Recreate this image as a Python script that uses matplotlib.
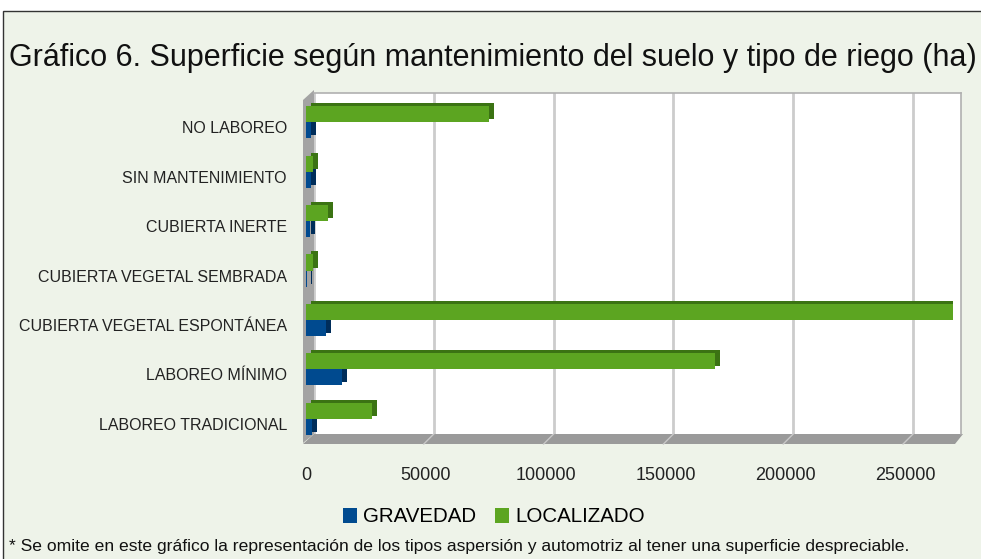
import matplotlib
matplotlib.use("Agg")
import matplotlib.pyplot as plt
import matplotlib.transforms as mtrans
from matplotlib.patches import Polygon, Rectangle, Patch
from matplotlib.lines import Line2D

plt.rcParams['font.family'] = ['Liberation Sans', 'DejaVu Sans']

# ---- data (bottom-to-top order as drawn) ----
categories = ["LABOREO TRADICIONAL", "LABOREO MÍNIMO", "CUBIERTA VEGETAL ESPONTÁNEA",
              "CUBIERTA VEGETAL SEMBRADA", "CUBIERTA INERTE", "SIN MANTENIMIENTO", "NO LABOREO"]
gravedad = [2400, 14900, 8400, 300, 1700, 2000, 2000]
localizado = [27400, 170800, 270000, 3000, 9000, 3000, 76400]
xticks = [0, 50000, 100000, 150000, 200000, 250000]
series_names = ["GRAVEDAD", "LOCALIZADO"]

W, H = 981, 559
DPI = 100
BG = "#eef3e9"
BLUE, BLUE_D = "#004a8f", "#002d5a"
GREEN, GREEN_D = "#5ca521", "#3b7313"

fig = plt.figure(figsize=(W / DPI, H / DPI), dpi=DPI)
fig.patch.set_facecolor("white")

def fx(px):
    return px / W

def fy(py):
    return 1 - py / H

# frame background with border
fig.patches.append(Rectangle((fx(3), fy(H + 5)), fx(W + 10), (H + 5 - 11) / H,
                             transform=fig.transFigure, facecolor=BG,
                             edgecolor="#333333", linewidth=1.0, zorder=-5))

# front plane geometry (pixels)
L, R, T, B = 306, 953, 100, 441
DX, DY = 8, 7  # oblique depth

ax_pos = [fx(L), fy(B), fx(R) - fx(L), fy(T) - fy(B)]
axb = fig.add_axes([ax_pos[0] + fx(DX), ax_pos[1] + DY / H, ax_pos[2], ax_pos[3]])
ax = fig.add_axes(ax_pos)
axb.set_zorder(2)
ax.set_zorder(3)

xmax = 270000
ylim = (-0.45, 6.45)
for a in (ax, axb):
    a.set_xlim(0, xmax)
    a.set_ylim(*ylim)

# back wall
axb.set_facecolor("white")
for s in axb.spines.values():
    s.set_color("#b0b0b0")
    s.set_linewidth(1.2)
axb.spines['left'].set_visible(False)
axb.spines['bottom'].set_visible(False)
axb.set_xticks(xticks)
axb.set_yticks([])
axb.tick_params(axis='x', length=0, labelbottom=False)
axb.grid(axis='x', color="#cccccc", linewidth=2.0)
axb.set_axisbelow(True)

# left wall and floor (decoration)
fig.patches.append(Polygon([(fx(L - 3), fy(B + 2)), (fx(L - 3), fy(T)), (fx(L + DX), fy(T - DY - 3)),
                            (fx(L + DX), fy(B - DY))], closed=True, transform=fig.transFigure,
                           facecolor="#a3a3a3", edgecolor="none", zorder=1))
fig.patches.append(Polygon([(fx(L - 3), fy(B + 3)), (fx(L + DX), fy(B - DY)), (fx(R + DX + 2), fy(B - DY)),
                            (fx(R + 2), fy(B + 3))], closed=True, transform=fig.transFigure,
                           facecolor="#9a9a9a", edgecolor="none", zorder=1))

# floor tick marks
for t in xticks[1:]:
    xf = L + (R - L) * t / xmax
    fig.lines.append(Line2D([fx(xf - 2), fx(xf + DX)], [fy(B + 3), fy(B - DY)],
                            transform=fig.transFigure, color="#c8c8c8", linewidth=1.0, zorder=1.5))

# front axes
ax.patch.set_alpha(0)
for s in ax.spines.values():
    s.set_visible(False)

h = 0.325
ypos = list(range(len(categories)))
off = mtrans.ScaledTranslation(5 / DPI, 3 / DPI, fig.dpi_scale_trans)
shadow_tr = ax.transData + off
yb = [y - h / 2 for y in ypos]
yg = [y + h / 2 for y in ypos]
ax.barh(yb, gravedad, height=h, color=BLUE_D, transform=shadow_tr, zorder=2)
ax.barh(yg, localizado, height=h, color=GREEN_D, transform=shadow_tr, zorder=2)
ax.barh(yb, gravedad, height=h, color=BLUE, zorder=3, label=series_names[0])
ax.barh(yg, localizado, height=h, color=GREEN, zorder=4, label=series_names[1])

ax.set_yticks(ypos)
ax.set_yticklabels(categories, fontsize=11.5, color="#222222")
ax.tick_params(axis='y', length=0, pad=13.7)
lab_off = mtrans.ScaledTranslation(0, -5 / DPI, fig.dpi_scale_trans)
for lab in ax.get_yticklabels():
    lab.set_transform(lab.get_transform() + lab_off)
ax.set_xticks(xticks)
ax.set_xticklabels([str(t) for t in xticks], fontsize=13, color="#222222")
ax.tick_params(axis='x', length=0, pad=18.5)

fig.text(fx(493), fy(58), "Gráfico 6. Superficie según mantenimiento del suelo y tipo de riego (ha)",
         fontsize=22, ha="center", va="center", color="#111111")

handles = [Patch(facecolor=BLUE, edgecolor="none"), Patch(facecolor=GREEN, edgecolor="none")]
fig.legend(handles, series_names, loc="center", bbox_to_anchor=(fx(494), fy(517)), ncol=2,
           frameon=False, fontsize=14.8, handlelength=0.7, handleheight=0.7,
           handletextpad=0.3, columnspacing=0.9, borderpad=0)

fig.text(fx(9), fy(547), "* Se omite en este gráfico la representación de los tipos aspersión y automotriz "
         "al tener una superficie despreciable.", fontsize=12.6, ha="left", va="center", color="#111111")

fig.savefig("out.png", dpi=DPI, facecolor=fig.get_facecolor())
